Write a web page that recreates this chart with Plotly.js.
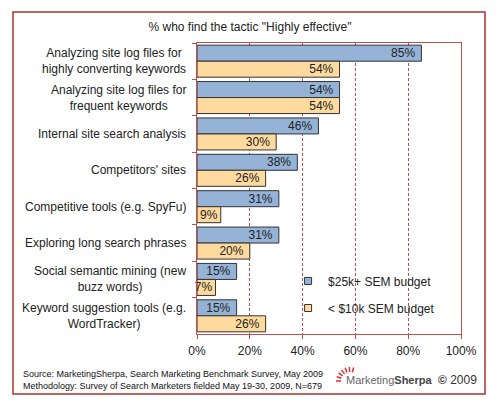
<!DOCTYPE html>
<html>
<head>
<meta charset="utf-8">
<script src="https://cdn.plot.ly/plotly-3.0.1.min.js"></script>
<style>html,body{margin:0;padding:0;background:#fff;}#chart{width:500px;height:407px;}</style>
</head>
<body>
<div id="chart"></div>
<script>
var categories = [
  "Analyzing site log files for<br>highly converting keywords",
  "Analyzing site log files for<br>frequent keywords",
  "Internal site search analysis",
  "Competitors' sites",
  "Competitive tools (e.g. SpyFu)",
  "Exploring long search phrases",
  "Social semantic mining (new<br>buzz words)",
  "Keyword suggestion tools (e.g.<br>WordTracker)"
];
var bigBudget = [85, 54, 46, 38, 31, 31, 15, 15];
var smallBudget = [54, 54, 30, 26, 9, 20, 7, 26];
var seriesNames = ["$25k+ SEM budget", "< $10k SEM budget"];
var xTicks = [0, 20, 40, 60, 80, 100];
var xTickText = ["0%", "20%", "40%", "60%", "80%", "100%"];

var FONT = "Liberation Sans, Arial, sans-serif";
var BLUE = "#95B3D7", ORANGE = "#FFDA9E", RED = "#C0504D";

function barTrace(vals, name, color) {
  return {
    type: "bar", orientation: "h", y: categories, x: vals, name: name,
    marker: {color: color, line: {color: "#333333", width: 1}},
    text: vals.map(function(v){ return v < 10 ? v + "%" : v + "%\u00a0"; }),
    textposition: "inside", insidetextanchor: "end", constraintext: "none",
    textfont: {family: FONT, size: 12, color: "#222"},
    hoverinfo: "x+y", showlegend: false, cliponaxis: false
  };
}
function legendTrace(name, color, grp) {
  return {
    type: "scatter", mode: "markers", x: [null], y: [null], name: name,
    legendgroup: grp, showlegend: true,
    marker: {symbol: "square", size: 7, color: color, line: {color: "#333", width: 1}}
  };
}

var data = [
  barTrace(bigBudget, seriesNames[0], BLUE),
  barTrace(smallBudget, seriesNames[1], ORANGE),
  legendTrace(seriesNames[0], BLUE, "a"),
  legendTrace(seriesNames[1], ORANGE, "b")
];

var annotations = categories.map(function(c){
  return {xref: "paper", yref: "y", x: 0, y: c, xshift: -9, xanchor: "right",
    align: "center", text: c, showarrow: false,
    font: {family: FONT, size: 12, color: "#222"}};
});
annotations.push({xref: "paper", yref: "paper", x: -0.667, y: -0.137, xanchor: "left", yanchor: "middle",
  text: "Source: MarketingSherpa, Search Marketing Benchmark Survey, May 2009", showarrow: false,
  font: {family: FONT, size: 9, color: "#111"}});
annotations.push({xref: "paper", yref: "paper", x: -0.667, y: -0.177, xanchor: "left", yanchor: "middle",
  text: "Methodology: Survey of Search Marketers fielded May 19-30, 2009, N=679", showarrow: false,
  font: {family: FONT, size: 9, color: "#111"}});
annotations.push({xref: "paper", yref: "paper", x: (434 - 197) / 264, y: -0.158, xanchor: "right", yanchor: "middle",
  text: "<span style='color:#666'>Marketing</span><b style='color:#444'>Sherpa</b>", showarrow: false,
  font: {family: FONT, size: 11, color: "#555"}});
annotations.push({xref: "paper", yref: "paper", x: 1.0682, y: -0.158, xanchor: "right", yanchor: "middle",
  text: "<b>©</b> 2009", showarrow: false,
  font: {family: FONT, size: 12, color: "#333"}});

var shapes = [{
  type: "rect", xref: "paper", yref: "paper",
  x0: (13 - 197) / 264, x1: (485 - 197) / 264, y0: (334 - 394) / 291, y1: (334 - 12) / 291,
  line: {color: "#B03030", width: 1.5}, fillcolor: "rgba(0,0,0,0)", layer: "below"
}];
// logo sun rays
var cx = 350, cy = 381;
for (var a = 75; a <= 180; a += 17.5) {
  var r = a * Math.PI / 180;
  var r0 = 9, r1 = 14;
  shapes.push({type: "line", xref: "paper", yref: "paper",
    x0: (cx + r0 * Math.cos(r) - 197) / 264, y0: (334 - (cy - r0 * Math.sin(r))) / 291,
    x1: (cx + r1 * Math.cos(r) - 197) / 264, y1: (334 - (cy - r1 * Math.sin(r))) / 291,
    line: {color: "#E03030", width: 1.5}});
}

var layout = {
  width: 500, height: 407,
  margin: {l: 197, r: 39, t: 43, b: 73},
  paper_bgcolor: "#fff", plot_bgcolor: "#fff",
  font: {family: FONT, size: 12, color: "#222"},
  title: {text: '% who find the tactic "Highly effective"', x: 0.5, xref: "container",
    y: 1 - 27 / 407, yref: "container", yanchor: "middle",
    font: {family: FONT, size: 12, color: "#222"}},
  barmode: "group", bargap: 0.12, bargroupgap: 0,
  xaxis: {range: [0, 100], tickmode: "array", tickvals: xTicks, ticktext: xTickText,
    ticks: "outside", ticklen: 4, ticklabelstandoff: 2,
    tickcolor: RED, showline: true, linecolor: RED, linewidth: 1, mirror: true,
    showgrid: true, gridcolor: RED, griddash: "3px,2px", gridwidth: 1, zeroline: false,
    tickfont: {family: FONT, size: 12, color: "#222"}, fixedrange: true},
  yaxis: {autorange: "reversed", type: "category", showticklabels: false, ticks: "outside",
    tickson: "boundaries", ticklen: 4, tickcolor: RED, showline: true, linecolor: RED,
    linewidth: 1, mirror: true, showgrid: false, zeroline: false, fixedrange: true},
  showlegend: true,
  legend: {x: 0.345, y: 0.232, xanchor: "left", yanchor: "top", bgcolor: "rgba(0,0,0,0)",
    tracegroupgap: 8, itemwidth: 30, font: {family: FONT, size: 12, color: "#222"}},
  annotations: annotations,
  shapes: shapes
};

Plotly.newPlot("chart", data, layout, {displayModeBar: false, staticPlot: true});
</script>
</body>
</html>
